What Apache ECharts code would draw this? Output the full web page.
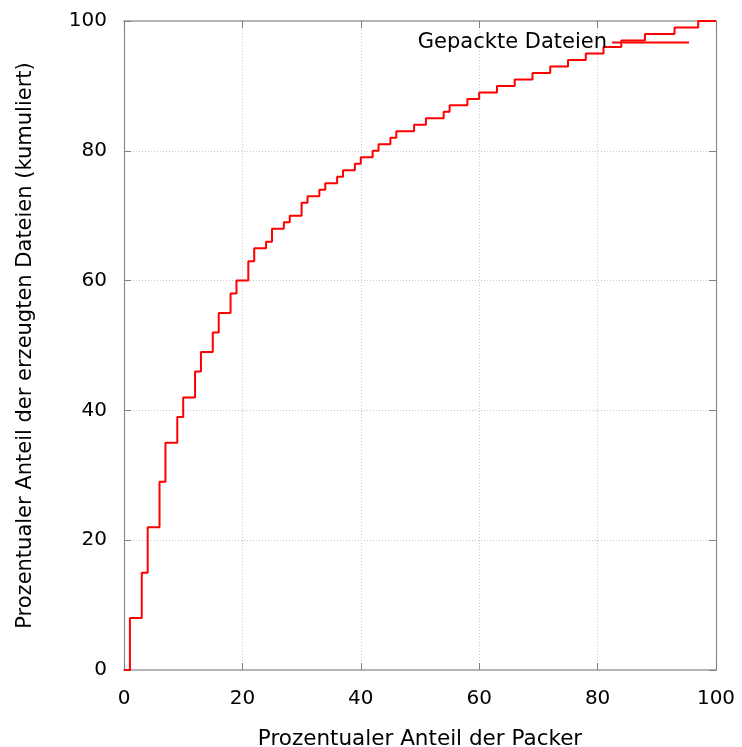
<!DOCTYPE html>
<html>
<head>
<meta charset="utf-8">
<script src="https://cdn.jsdelivr.net/npm/echarts@6/dist/echarts.min.js"></script>
<style>
	html, body { margin: 0; padding: 0; background: #ffffff; }
	#chart { width: 742px; height: 747px; }
</style>
</head>
<body>
<div id="chart"></div>
<script>
// Anteil der Packer (x, %) und kumulierter Anteil der erzeugten Dateien (y, %)
const packerShare = [0, 1, 3, 4, 6, 7, 9, 10, 12, 13, 15, 16, 18, 19, 21, 22, 24, 25, 27, 28,
	30, 31, 33, 34, 36, 37, 39, 40, 42, 43, 45, 46, 49, 51, 54, 55, 58, 60, 63, 66,
	69, 72, 75, 78, 81, 84, 88, 93, 97, 100]
const fileShare = [0, 8, 15, 22, 29, 35, 39, 42, 46, 49, 52, 55, 58, 60, 63, 65, 66, 68, 69, 70,
	72, 73, 74, 75, 76, 77, 78, 79, 80, 81, 82, 83, 84, 85, 86, 87, 88, 89, 90, 91,
	92, 93, 94, 95, 96, 97, 98, 99, 100, 100]
const xTicks = [0, 20, 40, 60, 80, 100]
const yTicks = [0, 20, 40, 60, 80, 100]
const seriesName = 'Gepackte Dateien'

const font = 'DejaVu Sans'

let chart = echarts.init(document.getElementById('chart'))

function makeAxis(type, pos, ticks, main){
	let isX = type === 'x'
	return {
		type: 'value',
		position: pos,
		min: ticks[0],
		max: ticks[ticks.length - 1],
		interval: ticks[1] - ticks[0],
		axisLine: {
			show: true,
			onZero: false,
			lineStyle: isX ? { color: '#b4b4b4', width: 2 } : { color: '#8c8c8c', width: 1.2 }
		},
		axisTick: { show: true, inside: true, length: 7, lineStyle: { color: '#808080', width: 1 } },
		axisLabel: {
			show: main,
			color: '#000',
			fontFamily: font,
			fontSize: 20,
			margin: isX ? 19 : 17
		},
		splitLine: {
			show: main,
			lineStyle: { color: '#c8c8c8', type: [1, 2], width: 1 }
		},
		name: main ? (isX ? 'Prozentualer Anteil der Packer' : 'Prozentualer Anteil der erzeugten Dateien (kumuliert)') : '',
		nameLocation: 'middle',
		nameGap: isX ? 58 : 88,
		nameTextStyle: { color: '#000', fontFamily: font, fontSize: isX ? 21.5 : 21 }
	}
}

let option = {
	animation: false,
	backgroundColor: '#ffffff',
	grid: {
		left: 124,
		right: 26,
		top: 21,
		bottom: 77,
		containLabel: false,
		outerBoundsMode: 'none'
	},
	legend: {
		show: true,
		top: 27,
		right: 48,
		align: 'right',
		itemWidth: 77,
		itemHeight: 2,
		itemGap: 0,
		icon: 'rect',
		textStyle: { color: '#000', fontFamily: font, fontSize: 21, padding: [0, 0, 0, 0] },
		data: [seriesName]
	},
	xAxis: [makeAxis('x', 'bottom', xTicks, true), makeAxis('x', 'top', xTicks, false)],
	yAxis: [makeAxis('y', 'left', yTicks, true), makeAxis('y', 'right', yTicks, false)],
	series: [{
		name: seriesName,
		type: 'line',
		step: 'end',
		symbol: 'none',
		color: '#ff0000',
		lineStyle: { color: '#ff0000', width: 2 },
		data: packerShare.map((x, i) => [x, fileShare[i]])
	}]
}

chart.setOption(option)
</script>
</body>
</html>
